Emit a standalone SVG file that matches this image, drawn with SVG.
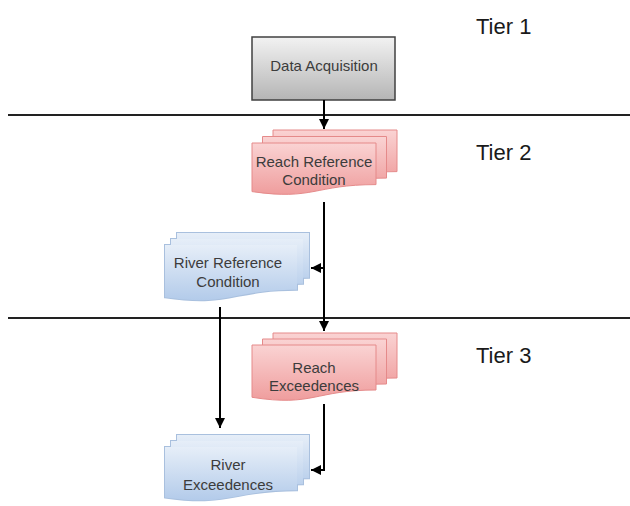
<svg xmlns="http://www.w3.org/2000/svg" width="630" height="506" viewBox="0 0 630 506">
<defs>
<linearGradient id="gGray" x1="0" y1="0" x2="0" y2="1"><stop offset="0" stop-color="#f2f2f2"/><stop offset="1" stop-color="#b5b5b5"/></linearGradient>
<linearGradient id="gPink" x1="0" y1="0" x2="0" y2="1"><stop offset="0" stop-color="#fad3d3"/><stop offset="1" stop-color="#ef9d9d"/></linearGradient>
<linearGradient id="gBlue" x1="0" y1="0" x2="0" y2="1"><stop offset="0" stop-color="#e6eef8"/><stop offset="1" stop-color="#b3cbea"/></linearGradient>
<marker id="ah" markerUnits="userSpaceOnUse" markerWidth="10" markerHeight="10" viewBox="0 0 10 10" refX="10" refY="5" orient="auto"><path d="M0,0 L10,5 L0,10 Z" fill="#000"/></marker>
</defs>
<style>
.t{font-family:"Liberation Sans",Arial,sans-serif;font-size:15px;fill:#3c3c3c;text-anchor:middle}
.tier{font-family:"Liberation Sans",Arial,sans-serif;font-size:22px;fill:#1a1a1a}
.pink{fill:url(#gPink);stroke:#e58a8a;stroke-width:1}
.blueo{fill:none;stroke:#a9c0de;stroke-width:2}
.bluef{fill:url(#gBlue);stroke:none}
.sep{stroke:#222;stroke-width:2}
.c{stroke:#000;stroke-width:2;fill:none}
</style>
<g id="separators">
<line class="sep" x1="8" y1="115" x2="630" y2="115"/>
<line class="sep" x1="8" y1="318" x2="630" y2="318"/>
</g>
<g id="tiers">
<text class="tier" x="476" y="34">Tier 1</text>
<text class="tier" x="476" y="160">Tier 2</text>
<text class="tier" x="476" y="363">Tier 3</text>
</g>
<g id="data-acquisition">
<rect x="252" y="37" width="143" height="63" fill="url(#gGray)" stroke="#404040" stroke-width="1.5"/>
<text class="t" x="324" y="71">Data Acquisition</text>
</g>
<g id="reach-reference">
<path class="pink" d="M273,130 H397 V171.6 C335,171.6 335,187.6 273,178.6 Z"/>
<path class="pink" d="M262.5,136.5 H386.5 V178.1 C324.5,178.1 324.5,194.1 262.5,185.1 Z"/>
<path class="pink" d="M252,143 H376 V184.6 C314,184.6 314,200.6 252,191.6 Z"/>
<text class="t" x="314" y="167">Reach Reference</text>
<text class="t" x="314" y="185">Condition</text>
</g>
<g id="river-reference">
<path id="rr1" class="blueo" d="M177,233 H309 V277.8 C243,277.8 243,295 177,285.3 Z"/>
<path id="rr2" class="blueo" d="M171,239 H303 V283.8 C237,283.8 237,301 171,291.3 Z"/>
<path id="rr3" class="blueo" d="M165,245 H297 V289.8 C231,289.8 231,307 165,297.3 Z"/>
<path class="bluef" d="M177,233 H309 V277.8 C243,277.8 243,295 177,285.3 Z"/>
<path class="bluef" d="M171,239 H303 V283.8 C237,283.8 237,301 171,291.3 Z"/>
<path class="bluef" d="M165,245 H297 V289.8 C231,289.8 231,307 165,297.3 Z"/>
<text class="t" x="228" y="268">River Reference</text>
<text class="t" x="228" y="287">Condition</text>
</g>
<g id="reach-exceedences">
<path class="pink" d="M273,333 H397 V378 C335,378 335,395 273,385.3 Z"/>
<path class="pink" d="M262.5,339 H386.5 V384 C324.5,384 324.5,401 262.5,391.3 Z"/>
<path class="pink" d="M252,345 H376 V390 C314,390 314,407 252,397.3 Z"/>
<text class="t" x="314" y="373">Reach</text>
<text class="t" x="314" y="391">Exceedences</text>
</g>
<g id="river-exceedences">
<path class="blueo" d="M177,435 H309 V478.2 C243,478.2 243,494.8 177,485.4 Z"/>
<path class="blueo" d="M171,441 H303 V484.2 C237,484.2 237,500.8 171,491.4 Z"/>
<path class="blueo" d="M165,447 H297 V490.2 C231,490.2 231,506.8 165,497.4 Z"/>
<path class="bluef" d="M177,435 H309 V478.2 C243,478.2 243,494.8 177,485.4 Z"/>
<path class="bluef" d="M171,441 H303 V484.2 C237,484.2 237,500.8 171,491.4 Z"/>
<path class="bluef" d="M165,447 H297 V490.2 C231,490.2 231,506.8 165,497.4 Z"/>
<text class="t" x="228" y="470">River</text>
<text class="t" x="228" y="490">Exceedences</text>
</g>
<g id="connectors">
<path class="c" d="M324,100 V129" marker-end="url(#ah)"/>
<path class="c" d="M324,202 V331" marker-end="url(#ah)"/>
<path class="c" d="M324,268 H311" marker-end="url(#ah)"/>
<path class="c" d="M220,307 V428" marker-end="url(#ah)"/>
<path class="c" d="M324,404 V470 H311" marker-end="url(#ah)"/>
</g>
</svg>
